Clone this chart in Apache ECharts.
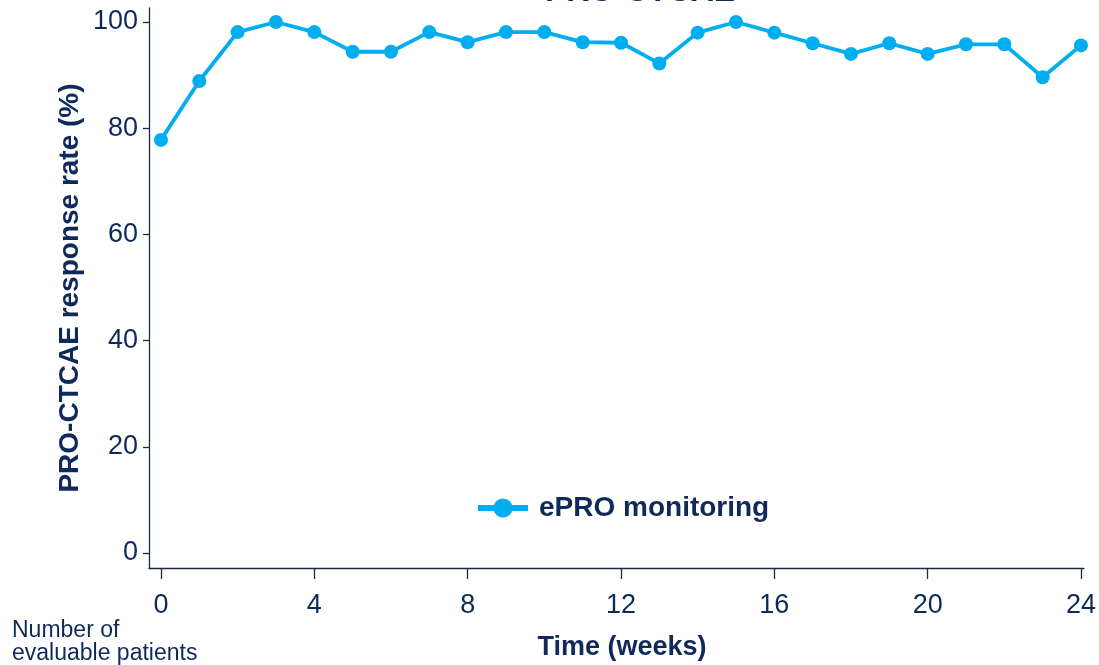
<!DOCTYPE html>
<html>
<head>
<meta charset="utf-8">
<script src="https://cdn.jsdelivr.net/npm/echarts@6/dist/echarts.min.js"></script>
<style>
html,body{margin:0;padding:0;background:#fff;}
#chart{width:1099px;height:665px;}
</style>
</head>
<body>
<div id="chart"></div>
<script>
const weeks = [0,1,2,3,4,5,6,7,8,9,10,11,12,13,14,15,16,17,18,19,20,21,22,23,24];
const responseRate = [77.8,88.9,98.1,100,98.1,94.4,94.4,98.1,96.2,98.1,98.1,96.2,96.1,92.2,98.0,100,98.0,96.0,94.0,96.0,94.0,95.8,95.8,89.6,95.6];
const xTicks = [0,4,8,12,16,20,24];
const yTicks = [0,20,40,60,80,100];
const seriesName = 'ePRO monitoring';
const titleText = 'PRO-CTCAE';
const yTitle = 'PRO-CTCAE response rate (%)';
const xTitle = 'Time (weeks)';
const footText = 'Number of\nevaluable patients';

const navy = '#0f2a5a';
const cyan = '#00aeef';
const font = '"Liberation Sans", Arial, sans-serif';

const chart = echarts.init(document.getElementById('chart'), null, {renderer:'canvas'});
chart.setOption({
  animation:false,
  backgroundColor:'#fff',
  grid:{left:149,right:13,top:8,bottom:97,containLabel:false},
  xAxis:{
    type:'value', min:-0.312, max:24.078,
    axisLine:{show:true,onZero:false,lineStyle:{color:'#1a2a45',width:1.3}},
    axisTick:{show:true,customValues:xTicks,length:11,lineStyle:{color:'#1a2a45',width:1.3}},
    axisLabel:{customValues:xTicks,color:navy,fontSize:27,fontFamily:font,margin:24},
    splitLine:{show:false}
  },
  yAxis:{
    type:'value', min:-2.82, max:102.64,
    axisLine:{show:true,onZero:false,lineStyle:{color:'#1a2a45',width:1.3}},
    axisTick:{show:true,customValues:yTicks,length:6,lineStyle:{color:'#1a2a45',width:1.3}},
    axisLabel:{customValues:yTicks,color:navy,fontSize:27,fontFamily:font,margin:11},
    splitLine:{show:false}
  },
  legend:{
    left:470, top:489,
    itemWidth:50, itemHeight:24,
    data:[seriesName],
    lineStyle:{width:6},
    itemStyle:{borderWidth:0},
    textStyle:{color:navy,fontSize:28,fontWeight:'bold',fontFamily:font,padding:[0,0,0,6]}
  },
  series:[{
    name:seriesName,
    type:'line',
    data:weeks.map((w,i)=>[w,responseRate[i]]),
    symbol:'circle',
    symbolSize:14,
    itemStyle:{color:cyan},
    lineStyle:{color:cyan,width:3.8}
  }],
  graphic:[
    {type:'text',x:640,y:-8,style:{text:titleText,fill:navy,font:'bold 32px '+font,textAlign:'center',textVerticalAlign:'middle'}},
    {type:'text',x:70,y:288,rotation:Math.PI/2,style:{text:yTitle,fill:navy,font:'bold 28px '+font,textAlign:'center',textVerticalAlign:'middle'}},
    {type:'text',x:622,y:648,style:{text:xTitle,fill:navy,font:'bold 27px '+font,textAlign:'center',textVerticalAlign:'middle'}},
    {type:'text',x:12,y:619,style:{text:footText,fill:navy,font:'23px '+font,lineHeight:23,textAlign:'left',textVerticalAlign:'top'}}
  ]
});
</script>
</body>
</html>
